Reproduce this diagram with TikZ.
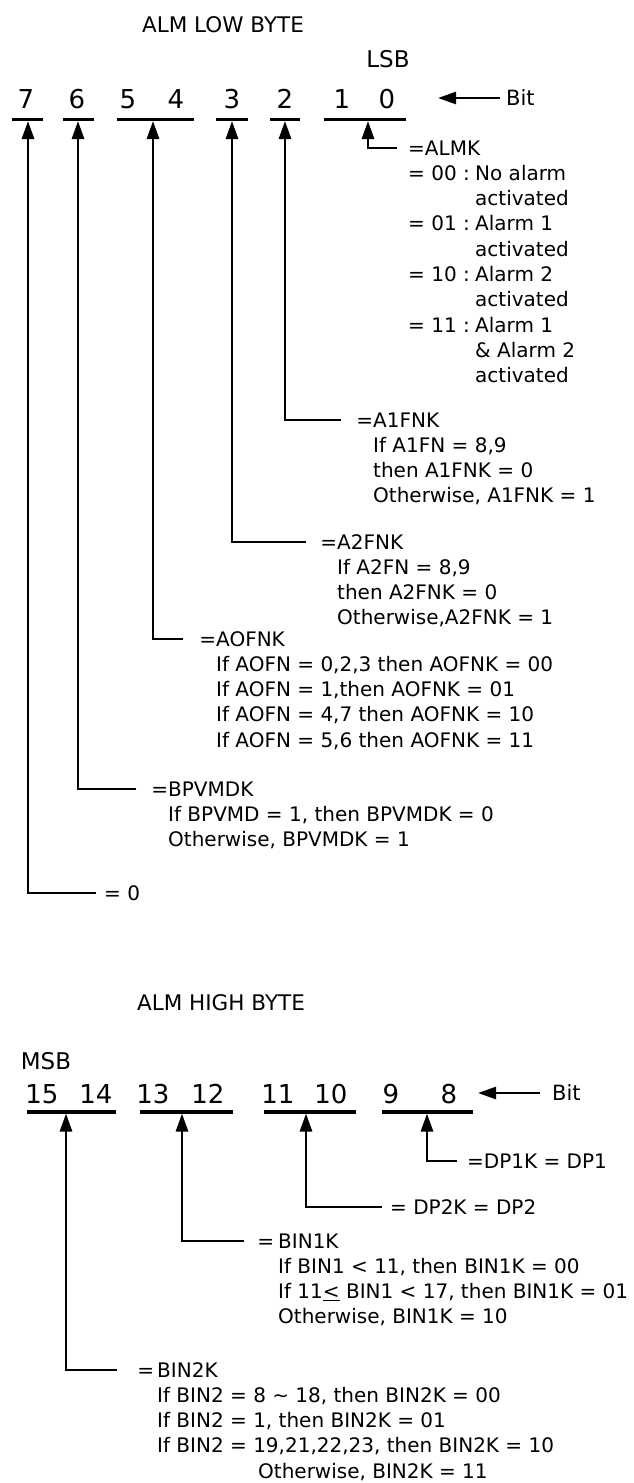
\documentclass[tikz,border=0pt]{standalone}
\usepackage{fontspec}
\setmainfont{DejaVu Sans}
\usetikzlibrary{arrows.meta}
\newcommand{\bodyf}{\fontsize{20}{25.3}\selectfont}
\newcommand{\digf}{\fontsize{26}{30}\selectfont}
\newcommand{\headf}{\fontsize{21.5}{25}\selectfont}
\newcommand{\msbf}{\fontsize{23}{27}\selectfont}
\newcommand{\bitf}{\fontsize{21}{25}\selectfont}
\newcommand{\eqcode}[1]{\makebox[67pt][l]{= #1 :}}
\begin{document}
\begin{tikzpicture}[x=1pt,y=-1pt,
  lbl/.style={inner sep=0pt, font=\bodyf, anchor=base west},
  dig/.style={inner sep=0pt, font=\digf, anchor=base},
  head/.style={inner sep=0pt, font=\headf, anchor=base},
  uline/.style={line width=3.2pt},
  conn/.style={line width=2.8pt, line join=miter, -{Triangle[length=18pt,width=12pt]}}]
\useasboundingbox (0,0) rectangle (633,1483);

% ---------------- ALM LOW BYTE ----------------
\node[head] (lowt) at (223,32) {ALM LOW BYTE};
\node[head, font=\msbf] (lsb) at (388,67) {LSB};
\node[dig] (d7) at (26,108.5) {7};
\node[dig] (d6) at (77,108.5) {6};
\node[dig] (d5) at (128,108.5) {5};
\node[dig] (d4) at (176,108.5) {4};
\node[dig] (d3) at (232,108.5) {3};
\node[dig] (d2) at (285,108.5) {2};
\node[dig] (d1) at (342,108.5) {1};
\node[dig] (d0) at (387,108.5) {0};
\draw[uline] (12,119.5) -- (42.5,119.5);
\draw[uline] (63,119.5) -- (94,119.5);
\draw[uline] (117,119.5) -- (194,119.5);
\draw[uline] (216,119.5) -- (248,119.5);
\draw[uline] (270,119.5) -- (300,119.5);
\draw[uline] (324,119.5) -- (406,119.5);

\node[lbl, anchor=west, font=\bitf] (bit1) at (506,98) {Bit};
\coordinate (bt1) at (438,98);
\draw[conn, shorten <=6pt] (bit1.west) -- (bt1);

% connectors
\coordinate (e10) at (397,148); \coordinate (t10) at (368,121);
\coordinate (e2) at (341,420);  \coordinate (t2) at (285,121);
\coordinate (e3) at (306,542);  \coordinate (t3) at (232,121);
\coordinate (e54) at (183,639); \coordinate (t54) at (153,121);
\coordinate (e6) at (136,789);  \coordinate (t6) at (78,121);
\coordinate (e7) at (96,893);   \coordinate (t7) at (28,121);
\draw[conn] (e10) -| (t10);
\draw[conn] (e2) -| (t2);
\draw[conn] (e3) -| (t3);
\draw[conn] (e54) -| (t54);
\draw[conn] (e6) -| (t6);
\draw[conn] (e7) -| (t7);

\node[lbl] (almk) at (408,155) {\begin{tabular}[t]{@{}l@{}}
=ALMK\\
\eqcode{00}No alarm\\
\hspace*{67pt}activated\\
\eqcode{01}Alarm 1\\
\hspace*{67pt}activated\\
\eqcode{10}Alarm 2\\
\hspace*{67pt}activated\\
\eqcode{11}Alarm 1\\
\hspace*{67pt}\& Alarm 2\\
\hspace*{67pt}activated
\end{tabular}};

\node[lbl] (a1k) at (373,427) {\begin{tabular}[t]{@{}l@{}}
\llap{=}A1FNK\\
If A1FN = 8,9\\
then A1FNK = 0\\
Otherwise, A1FNK = 1
\end{tabular}};

\node[lbl] (a2k) at (337,549) {\begin{tabular}[t]{@{}l@{}}
\llap{=}A2FNK\\
If A2FN = 8,9\\
then A2FNK = 0\\
Otherwise,A2FNK = 1
\end{tabular}};

\node[lbl] (aofk) at (216,646) {\begin{tabular}[t]{@{}l@{}}
\llap{=}AOFNK\\
If AOFN = 0,2,3 then AOFNK = 00\\
If AOFN = 1,then AOFNK = 01\\
If AOFN = 4,7 then AOFNK = 10\\
If AOFN = 5,6 then AOFNK = 11
\end{tabular}};

\node[lbl] (bpvk) at (168,796) {\begin{tabular}[t]{@{}l@{}}
\llap{=}BPVMDK\\
If BPVMD = 1, then BPVMDK = 0\\
Otherwise, BPVMDK = 1
\end{tabular}};

\node[lbl] (zero) at (104,900) {= 0};

% ---------------- ALM HIGH BYTE ----------------
\node[head] (hight) at (221,1010) {ALM HIGH BYTE};
\node[head, font=\msbf] (msb) at (46,1069) {MSB};
\node[dig] (d15) at (42,1103) {15};
\node[dig] (d14) at (96,1103) {14};
\node[dig] (d13) at (153,1103) {13};
\node[dig] (d12) at (208,1103) {12};
\node[dig] (d11) at (278,1103) {11};
\node[dig] (d10) at (331,1103) {10};
\node[dig] (d9) at (391,1103) {9};
\node[dig] (d8) at (449,1103) {8};
\draw[uline] (27,1112) -- (116,1112);
\draw[uline] (140,1112) -- (233,1112);
\draw[uline] (264,1112) -- (356,1112);
\draw[uline] (382,1112) -- (473,1112);

\node[lbl, anchor=west, font=\bitf] (bit2) at (552,1093) {Bit};
\coordinate (bt2) at (478,1093);
\draw[conn, shorten <=12pt] (bit2.west) -- (bt2);

\coordinate (edp1) at (457,1161); \coordinate (tdp1) at (427,1113.5);
\coordinate (edp2) at (382,1207); \coordinate (tdp2) at (306,1113.5);
\coordinate (eb1) at (244,1241);  \coordinate (tb1) at (182,1113.5);
\coordinate (eb2) at (117,1370);  \coordinate (tb2) at (66,1113.5);
\draw[conn] (edp1) -| (tdp1);
\draw[conn] (edp2) -| (tdp2);
\draw[conn] (eb1) -| (tb1);
\draw[conn] (eb2) -| (tb2);

\node[lbl] (dp1k) at (467,1168) {=DP1K = DP1};
\node[lbl] (dp2k) at (390,1214) {= DP2K = DP2};

\node[lbl] (bin1k) at (278,1248) {\begin{tabular}[t]{@{}l@{}}
\llap{=\hspace{4pt}}BIN1K\\
If BIN1 < 11, then BIN1K = 00\\
If 11\underline{<} BIN1 < 17, then BIN1K = 01\\
Otherwise, BIN1K = 10
\end{tabular}};

\node[lbl] (bin2k) at (157,1377) {\begin{tabular}[t]{@{}l@{}}
\llap{=\hspace{3pt}}BIN2K\\
If BIN2 = 8 \textasciitilde{} 18, then BIN2K = 00\\
If BIN2 = 1, then BIN2K = 01\\
If BIN2 = 19,21,22,23, then BIN2K = 10\\
\hspace*{101pt}Otherwise, BIN2K = 11
\end{tabular}};
\end{tikzpicture}
\end{document}
